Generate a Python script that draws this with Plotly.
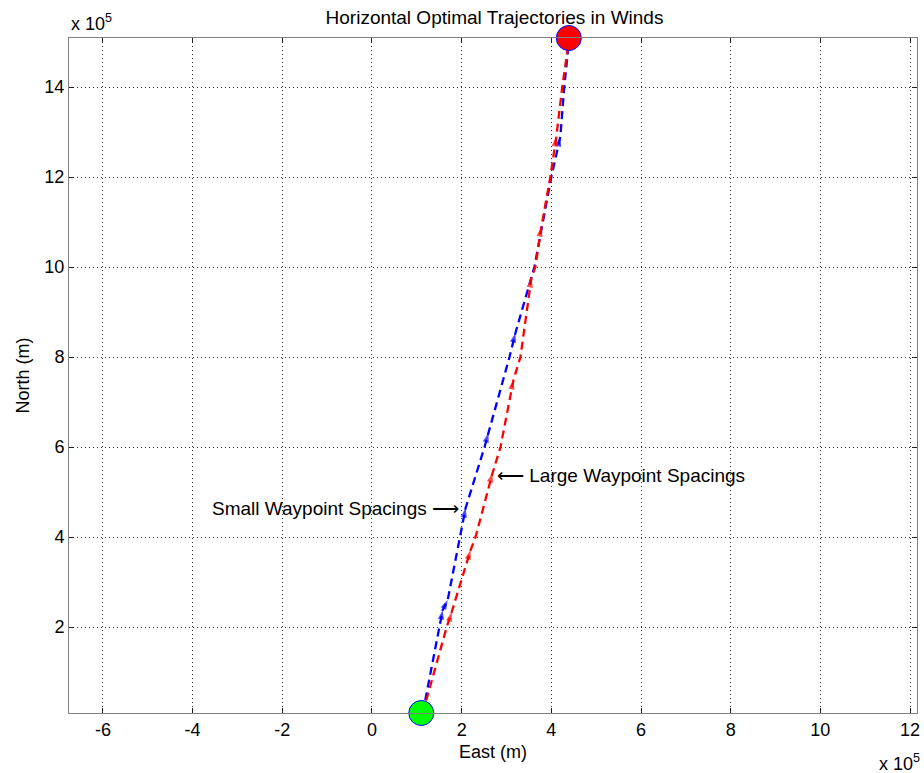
import plotly.graph_objects as go

# Coordinates in units of 1e5 m
small_east = [1.133, 1.511, 1.578, 1.689, 1.956, 2.089, 2.511, 2.600, 3.067, 3.200, 3.622, 4.000, 4.200, 4.289, 4.400]
small_north = [0.089, 2.000, 2.378, 2.600, 4.000, 4.644, 6.000, 6.311, 8.000, 8.533, 10.000, 12.000, 12.889, 14.000, 15.089]
small_wp_east = [1.133, 1.578, 1.689, 2.089, 2.600, 3.200, 4.200]
small_wp_north = [0.089, 2.378, 2.600, 4.644, 6.311, 8.533, 12.889]

large_east = [1.133, 1.667, 1.778, 2.200, 2.311, 2.689, 2.867, 3.156, 3.311, 3.556, 3.644, 3.778, 3.978, 4.111, 4.244, 4.400]
large_north = [0.089, 2.000, 2.333, 3.711, 4.000, 5.422, 6.000, 7.489, 8.000, 9.756, 10.000, 10.889, 12.000, 12.889, 14.000, 15.089]
large_wp_east = [1.133, 1.778, 2.200, 2.689, 3.156, 3.556, 3.778, 4.111]
large_wp_north = [0.089, 2.333, 3.711, 5.422, 7.489, 9.756, 10.889, 12.889]

start_pt = (1.100, 0.089)
end_pt = (4.390, 15.089)

x_ticks = [-6, -4, -2, 0, 2, 4, 6, 8, 10, 12]
y_ticks = [2, 4, 6, 8, 10, 12, 14]
x_range = [-6.756, 12.155]
y_range = [0.089, 15.089]

FONT = "Liberation Sans, Arial, sans-serif"

fig = go.Figure()

fig.add_trace(go.Scatter(x=small_east, y=small_north, mode="lines",
                         line=dict(color="#0000ff", width=2.3, dash="8px,5px"),
                         hoverinfo="skip", showlegend=False))
fig.add_trace(go.Scatter(x=small_wp_east, y=small_wp_north, mode="markers",
                         marker=dict(symbol="arrow", angleref="previous", size=[0] + [10] * (len(small_wp_east) - 1),
                                     color="#0000ff", line=dict(width=0)),
                         hoverinfo="skip", showlegend=False))
fig.add_trace(go.Scatter(x=large_east, y=large_north, mode="lines",
                         line=dict(color="#ff0000", width=2.3, dash="8px,5px"),
                         hoverinfo="skip", showlegend=False))
fig.add_trace(go.Scatter(x=large_wp_east, y=large_wp_north, mode="markers",
                         marker=dict(symbol="arrow", angleref="previous", size=[0] + [10] * (len(large_wp_east) - 1),
                                     color="#ff0000", line=dict(width=0)),
                         hoverinfo="skip", showlegend=False))
fig.add_trace(go.Scatter(x=[start_pt[0]], y=[start_pt[1]], mode="markers",
                         marker=dict(symbol="circle", size=25, color="#00ff00", line=dict(color="#0000ff", width=1)),
                         cliponaxis=False, hoverinfo="skip", showlegend=False))
fig.add_trace(go.Scatter(x=[end_pt[0]], y=[end_pt[1]], mode="markers",
                         marker=dict(symbol="circle", size=25, color="#ff0000", line=dict(color="#0000ff", width=1)),
                         cliponaxis=False, hoverinfo="skip", showlegend=False))

axis_common = dict(showgrid=True, gridcolor="#303030", griddash="1px,3px", gridwidth=1,
                   zeroline=False, showline=True, linecolor="#808080", linewidth=1, mirror="ticks",
                   ticks="inside", ticklen=5, tickcolor="#202020",
                   tickfont=dict(family=FONT, size=18, color="#000"))

fig.update_xaxes(range=x_range, tickvals=x_ticks, ticktext=[str(v) for v in x_ticks], **axis_common)
fig.update_yaxes(range=y_range, tickvals=y_ticks, ticktext=[str(v) for v in y_ticks], **axis_common)

annots = [
    dict(text="Small Waypoint Spacings \u27f6", x=1.990, y=4.644, xref="x", yref="y",
         xanchor="right", yanchor="middle", showarrow=False, font=dict(family=FONT, size=19, color="#000")),
    dict(text="\u27f5 Large Waypoint Spacings", x=2.740, y=5.356, xref="x", yref="y",
         xanchor="left", yanchor="middle", showarrow=False, font=dict(family=FONT, size=19, color="#000")),
    dict(text="x 10<sup>5</sup>", x=0, y=1, xref="paper", yref="paper", xanchor="left", yanchor="bottom",
         yshift=2, showarrow=False, font=dict(family=FONT, size=18, color="#000")),
    dict(text="x 10<sup>5</sup>", x=(880 - 69) / 851, y=0, xref="paper", yref="paper",
         xanchor="left", yanchor="top", yshift=-36, showarrow=False,
         font=dict(family=FONT, size=18, color="#000")),
    dict(text="East (m)", x=0.5, y=0, xref="paper", yref="paper", xanchor="center", yanchor="top",
         yshift=-27, showarrow=False, font=dict(family=FONT, size=18, color="#000")),
    dict(text="North (m)", x=0, y=0.5, xref="paper", yref="paper", xanchor="center", yanchor="middle",
         xshift=-47, textangle=-90, showarrow=False, font=dict(family=FONT, size=18, color="#000")),
]

fig.update_layout(
    width=924, height=773,
    margin=dict(l=69, r=4, t=38, b=60),
    paper_bgcolor="white", plot_bgcolor="white",
    title=dict(text="Horizontal Optimal Trajectories in Winds", x=(69 + 920) / 2 / 924, xanchor="center",
               y=1 - 17 / 773, yanchor="middle", yref="container",
               font=dict(family=FONT, size=19, color="#000")),
    annotations=annots,
    showlegend=False,
)

fig.write_html("out.html")
